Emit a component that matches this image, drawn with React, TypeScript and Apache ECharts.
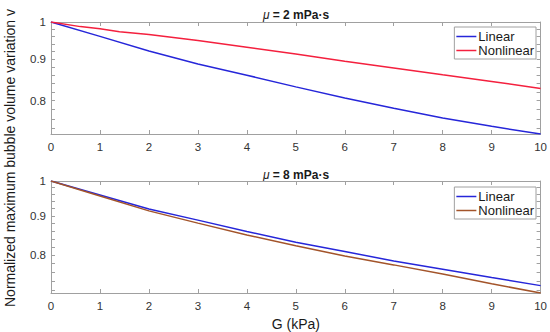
import React, { useEffect, useRef } from 'react';
import * as echarts from 'echarts';

// x values (G, kPa)
const G = [0, 1, 2, 3, 4, 5, 6, 7, 8, 9, 10];
const G_TOP_NONLINEAR = [0, 0.6, 1, 1.4, 2, 3, 4, 5, 6, 7, 8, 9, 10];

// mu = 2 mPa·s
const TOP_LINEAR = [1, 0.96, 0.921, 0.888, 0.86, 0.832, 0.806, 0.783, 0.762, 0.744, 0.728];
const TOP_NONLINEAR = [1, 0.987, 0.981, 0.973, 0.965, 0.949, 0.931, 0.913, 0.895, 0.878, 0.861, 0.845, 0.828];

// mu = 8 mPa·s
const BOT_LINEAR = [1, 0.959, 0.919, 0.889, 0.859, 0.832, 0.809, 0.786, 0.767, 0.748, 0.73];
const BOT_NONLINEAR = [1, 0.956, 0.914, 0.881, 0.85, 0.823, 0.798, 0.777, 0.756, 0.734, 0.714];

// y axis (log scale) ranges and ticks
const TOP_Y_MIN = 0.728;
const BOT_Y_MIN = 0.714;
const Y_MAX = 1;
const Y_LABELS = [0.8, 0.9, 1];
const Y_TICKS = [0.72, 0.74, 0.76, 0.78, 0.8, 0.82, 0.84, 0.86, 0.88, 0.9, 0.92, 0.94, 0.96, 0.98, 1];

const TITLES = ['{i|μ} = 2 mPa·s', '{i|μ} = 8 mPa·s'];
const Y_NAME = 'Normalized maximum bubble volume variation v';
const X_NAME = 'G (kPa)';

const BLUE = '#2626d9';
const RED = '#f4203e';
const BROWN = '#a3542a';
const AXIS = '#a0a0a0';
const FONT = '"Liberation Sans", Arial, Helvetica, sans-serif';

const lg = (v: number) => Math.log10(v);

export default function App() {
  const ref = useRef<HTMLDivElement>(null);
  useEffect(() => {
    if (!ref.current) return;
    const chart = echarts.init(ref.current, undefined, { renderer: 'svg' });

    const grids = [
      { left: 51, right: 9, top: 22, height: 112 },
      { left: 51, right: 9, top: 181, height: 112 },
    ];

    const xAxisBase = (gridIndex: number, position: 'bottom' | 'top', labels: boolean) => ({
      type: 'value',
      gridIndex,
      position,
      min: 0,
      max: 10,
      interval: 1,
      axisLine: { show: true, onZero: false, lineStyle: { color: AXIS, width: 1 } },
      axisTick: { show: true, inside: true, length: 4, lineStyle: { color: AXIS } },
      axisLabel: labels
        ? { show: true, margin: 7, fontSize: 11.5, color: '#333', fontFamily: FONT }
        : { show: false },
      splitLine: { show: false },
    });

    const yAxisBase = (gridIndex: number, position: 'left' | 'right', min: number, labels: boolean) => ({
      type: 'value',
      gridIndex,
      position,
      min: lg(min),
      max: lg(Y_MAX),
      axisLine: { show: true, onZero: false, lineStyle: { color: AXIS, width: 1 } },
      axisTick: {
        show: true,
        inside: true,
        length: 4,
        lineStyle: { color: AXIS },
        customValues: Y_TICKS.filter((t) => t >= min - 1e-9).map(lg),
      },
      axisLabel: labels
        ? {
            show: true,
            margin: 5,
            fontSize: 11.5,
            color: '#333',
            fontFamily: FONT,
            customValues: Y_LABELS.map(lg),
            formatter: (v: number) => String(Math.round(Math.pow(10, v) * 100) / 100),
          }
        : { show: false },
      splitLine: { show: false },
    });

    const xAxes: any[] = [
      xAxisBase(0, 'bottom', true),
      xAxisBase(0, 'top', false),
      { ...xAxisBase(1, 'bottom', true), name: X_NAME, nameLocation: 'middle', nameGap: 24, nameTextStyle: { fontSize: 14, color: '#1a1a1a', fontFamily: FONT } },
      xAxisBase(1, 'top', false),
    ];
    const yAxes: any[] = [
      yAxisBase(0, 'left', TOP_Y_MIN, true),
      yAxisBase(0, 'right', TOP_Y_MIN, false),
      yAxisBase(1, 'left', BOT_Y_MIN, true),
      yAxisBase(1, 'right', BOT_Y_MIN, false),
    ];

    const line = (name: string, xs: number[], ys: number[], color: string, xi: number, yi: number) => ({
      type: 'line',
      name,
      xAxisIndex: xi,
      yAxisIndex: yi,
      data: xs.map((x, i) => [x, lg(ys[i])]),
      showSymbol: false,
      symbol: 'none',
      lineStyle: { color, width: 1.5 },
      itemStyle: { color },
      silent: true,
    });

    const legendBase = (top: number, names: string[]) => ({
      orient: 'vertical',
      right: 14,
      top,
      data: names,
      icon: 'rect',
      itemWidth: 20,
      itemHeight: 1.5,
      itemGap: 1,
      padding: [3, 2, 2, 2],
      borderColor: AXIS,
      borderWidth: 1,
      backgroundColor: '#fff',
      selectedMode: false,
      textStyle: { fontSize: 13, color: '#1a1a1a', fontFamily: FONT, padding: [0, 0, 0, -3] },
      formatter: (n: string) => n.trim(),
    });

    const titleText = (y: number, text: string) => ({
      type: 'text',
      x: 296,
      y,
      style: {
        text,
        align: 'center',
        verticalAlign: 'middle',
        fontFamily: FONT,
        fontSize: 12,
        fontWeight: 'bold',
        fill: '#1a1a1a',
        rich: {
          i: { fontStyle: 'italic', fontWeight: 'normal', fontSize: 12, fontFamily: FONT, fill: '#1a1a1a' },
        },
      },
    });

    chart.setOption({
      animation: false,
      backgroundColor: '#fff',
      grid: grids,
      xAxis: xAxes,
      yAxis: yAxes,
      legend: [
        legendBase(27, ['Linear', 'Nonlinear']),
        legendBase(187, ['Linear ', 'Nonlinear ']),
      ],
      series: [
        line('Linear', G, TOP_LINEAR, BLUE, 0, 0),
        line('Nonlinear', G_TOP_NONLINEAR, TOP_NONLINEAR, RED, 0, 0),
        line('Linear ', G, BOT_LINEAR, BLUE, 2, 2),
        line('Nonlinear ', G, BOT_NONLINEAR, BROWN, 2, 2),
      ],
      graphic: [
        titleText(15, TITLES[0]),
        titleText(175, TITLES[1]),
        {
          type: 'text',
          x: 10,
          y: 158,
          rotation: Math.PI / 2,
          style: {
            text: Y_NAME,
            align: 'center',
            verticalAlign: 'middle',
            fontFamily: FONT,
            fontSize: 14,
            fill: '#1a1a1a',
          },
        },
      ],
    });
    return () => chart.dispose();
  }, []);
  return <div ref={ref} style={{ position: 'fixed', left: 0, top: 0, width: 550, height: 332 }} />;
}
